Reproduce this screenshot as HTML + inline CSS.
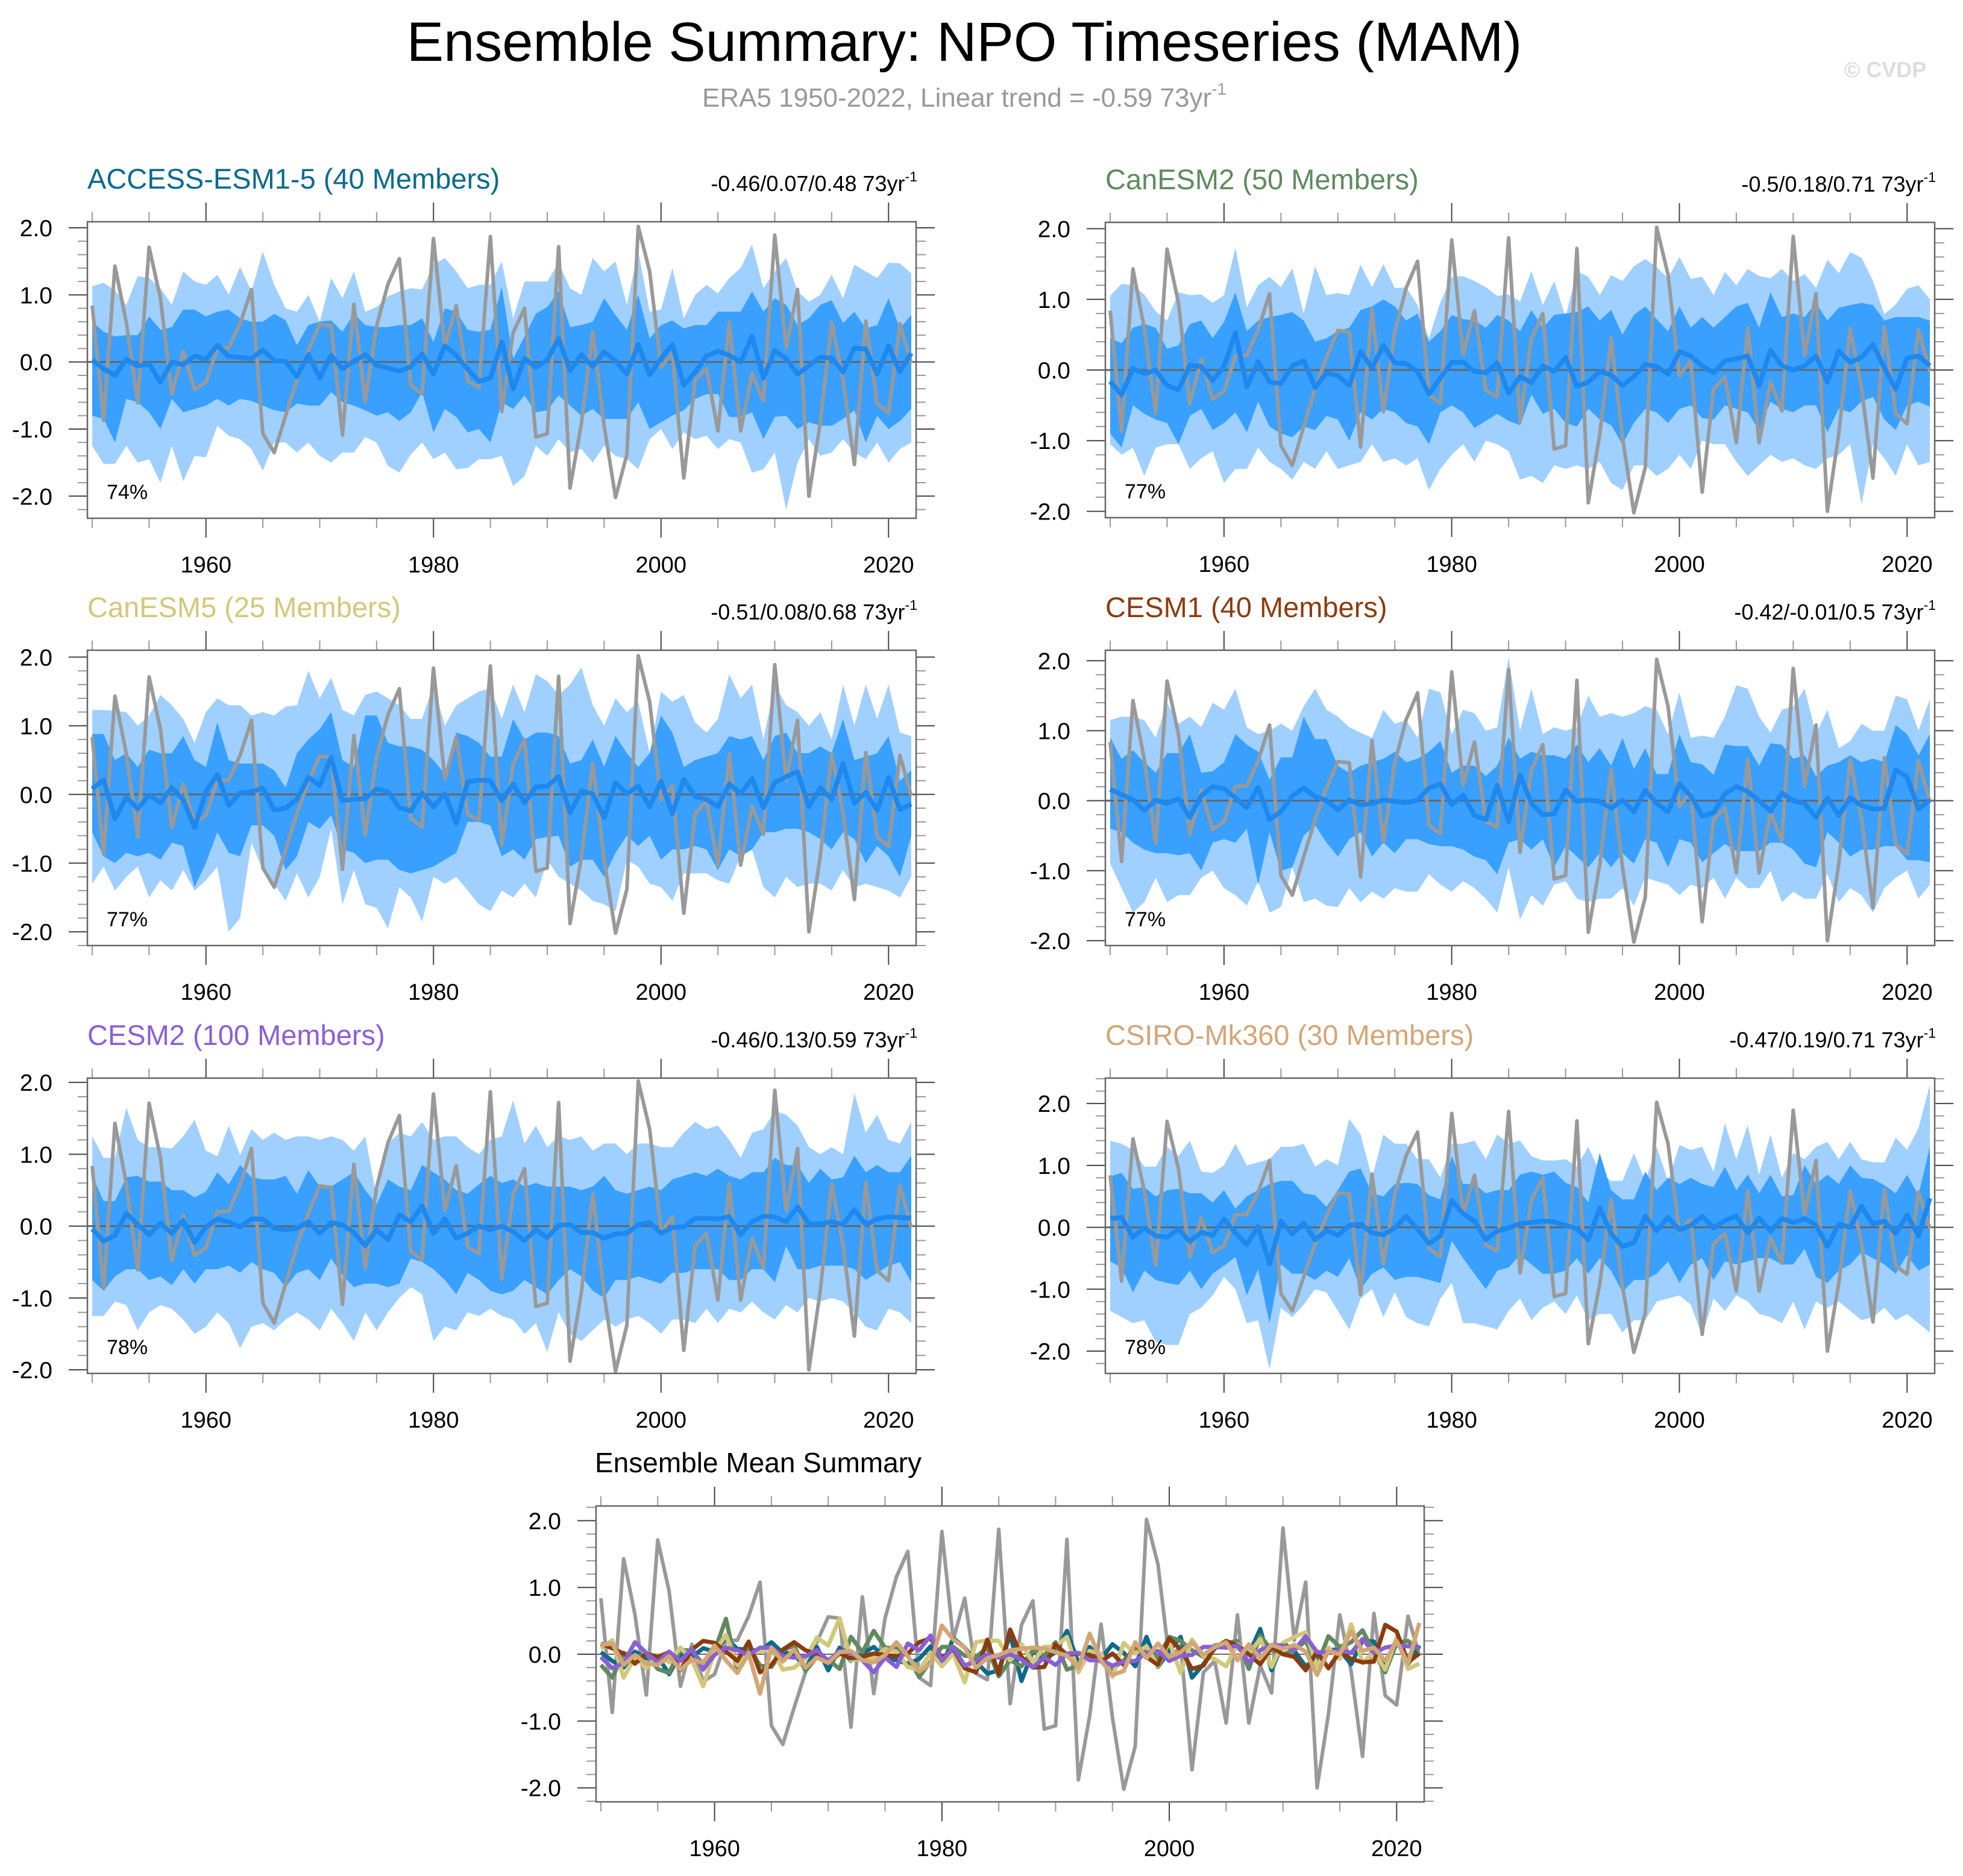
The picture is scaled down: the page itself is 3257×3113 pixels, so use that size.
<!DOCTYPE html>
<html><head><meta charset="utf-8"><title>Ensemble Summary: NPO Timeseries (MAM)</title>
<style>html,body{margin:0;padding:0;background:#fff}svg{display:block;font-family:"Liberation Sans",Arial,sans-serif}</style>
</head><body>
<svg id="chart" width="3257" height="3113" viewBox="0 0 3257 3113" xmlns="http://www.w3.org/2000/svg">
<rect x="0" y="0" width="3257" height="3113" fill="#fff"/>
<text x="1600" y="101" font-size="92" text-anchor="middle" fill="#000">Ensemble Summary: NPO Timeseries (MAM)</text>
<text x="1600" y="177" font-size="44" text-anchor="middle" fill="#999">ERA5 1950-2022, Linear trend = -0.59 73yr<tspan font-size="28" dy="-20">-1</tspan></text>
<text x="3128" y="128" font-size="36" font-weight="bold" text-anchor="middle" fill="#ddd">© CVDP</text>
<g id="plots"></g>
</svg>
<script>
const years=[];for(let y=1950;y<=2022;y++)years.push(y);
const era5=[0.84,-0.87,1.43,0.59,-0.61,1.71,0.95,-0.48,0.15,-0.41,-0.3,0.2,0.21,0.57,1.08,-1.07,-1.35,-0.8,-0.27,0.18,0.56,0.54,-1.09,0.86,-0.59,0.54,1.16,1.54,-0.35,-0.47,1.84,0.22,0.84,-0.29,-0.38,1.87,-0.74,0.44,0.8,-1.12,-1.07,1.72,-1.88,-0.92,0.45,-0.95,-2.02,-1.38,2.02,1.35,-0.08,0.13,-1.73,-0.27,-0.1,-1.03,0.59,-1.03,-0.17,-0.58,1.89,0.21,1.08,-2.0,-0.9,0.59,-0.26,-1.53,0.61,-0.62,-0.76,0.57,-0.02];

const accessMean=[0.03,-0.1,-0.2,0.04,-0.06,-0.03,-0.3,0.0,-0.04,0.09,0.04,0.25,0.08,0.07,0.05,0.18,0.02,0.01,-0.22,0.11,-0.24,0.1,-0.1,0.01,0.11,-0.05,-0.09,-0.14,-0.07,0.12,-0.18,0.24,0.1,-0.11,-0.29,-0.24,0.3,-0.4,0.05,-0.08,0.03,0.35,-0.13,0.11,-0.07,0.15,0.02,-0.18,0.26,-0.19,0.05,0.26,-0.35,-0.15,0.09,0.16,0.1,0.0,0.38,-0.24,0.17,0.05,-0.18,-0.06,0.07,0.06,-0.15,0.21,0.19,-0.18,0.24,-0.15,0.13];
const accessLightHi=[1.13,1.18,1.07,0.85,1.28,1.25,1.1,0.85,1.35,1.2,1.15,1.3,1.0,1.42,1.05,1.65,1.15,0.8,0.75,1.0,0.6,1.25,0.95,1.35,0.75,0.82,0.98,1.05,1.1,1.08,1.45,1.55,1.35,1.1,1.15,1.15,1.5,0.65,1.2,1.2,1.2,1.48,1.1,1.0,1.55,1.35,1.5,0.85,1.65,0.75,0.78,1.4,0.65,1.0,1.15,1.02,1.25,1.4,1.75,1.1,1.35,1.55,1.05,0.9,1.0,1.3,0.95,1.45,1.35,1.25,1.48,1.47,1.32];
const accessDarkHi=[0.6,0.45,0.38,0.4,0.4,0.68,0.48,0.52,0.78,0.78,0.68,0.75,0.78,0.65,0.6,0.6,0.72,0.62,0.25,0.55,0.6,0.62,0.45,0.72,0.55,0.52,0.52,0.55,0.55,0.65,0.3,0.8,0.75,0.48,0.45,0.48,1.12,0.05,0.38,0.72,0.82,1.05,0.52,0.55,0.6,0.95,0.7,0.48,1.0,0.35,0.55,0.62,0.5,0.55,0.55,0.75,0.75,0.75,1.05,0.75,0.95,0.85,0.55,0.65,0.85,0.92,0.58,0.75,0.5,0.55,0.95,0.5,0.7];
const accessDarkLo=[-0.8,-0.85,-1.2,-0.55,-0.6,-0.75,-1.0,-0.55,-0.75,-0.7,-0.65,-0.55,-0.65,-0.55,-0.58,-0.65,-0.72,-0.75,-0.62,-0.65,-0.65,-0.45,-0.6,-0.65,-0.72,-0.8,-0.75,-0.88,-0.75,-0.45,-1.05,-0.7,-0.82,-1.05,-1.0,-1.2,-0.6,-0.7,-0.5,-0.75,-0.72,-0.5,-0.65,-0.8,-0.7,-0.85,-0.85,-0.85,-0.6,-1.0,-0.9,-0.8,-0.72,-0.55,-0.48,-0.48,-0.82,-0.82,-0.75,-1.15,-0.82,-0.8,-1.0,-0.9,-0.95,-0.95,-0.85,-0.72,-1.2,-0.8,-1.0,-0.88,-0.7];
const accessLightLo=[-1.25,-1.52,-1.52,-1.25,-1.5,-1.45,-1.8,-1.25,-1.78,-1.4,-1.42,-0.95,-1.1,-1.15,-1.3,-1.62,-1.2,-1.2,-1.35,-1.2,-1.4,-1.5,-1.35,-1.35,-1.12,-1.2,-1.55,-1.65,-1.38,-1.2,-1.45,-1.35,-1.6,-1.58,-1.45,-1.45,-1.4,-1.85,-1.7,-1.25,-1.4,-1.15,-1.35,-1.3,-1.5,-1.25,-1.4,-1.45,-1.6,-1.15,-1.0,-1.3,-1.05,-1.15,-1.1,-1.3,-1.15,-1.2,-1.65,-1.6,-1.35,-2.2,-1.5,-1.15,-1.4,-1.35,-1.15,-1.35,-1.45,-1.2,-1.5,-1.3,-1.2];

const canesm2Mean=[-0.16,-0.35,0.02,-0.05,0.0,-0.22,-0.28,0.07,0.05,-0.15,0.05,0.53,-0.24,0.12,-0.17,-0.19,0.06,0.13,-0.25,-0.04,-0.08,-0.22,0.26,0.03,0.35,0.1,0.09,-0.02,-0.34,-0.11,0.11,0.11,-0.02,-0.04,0.1,-0.33,-0.09,-0.18,0.06,-0.02,0.18,-0.23,-0.17,-0.02,-0.07,-0.22,-0.09,0.08,0.05,-0.06,0.26,0.2,0.06,-0.04,0.13,0.16,0.2,-0.22,0.28,0.06,0.0,0.06,0.2,-0.17,0.27,0.11,0.18,0.36,0.03,-0.27,0.17,0.2,0.06];
const canesm2LightHi=[1.05,1.22,1.2,1.07,0.83,0.7,1.1,1.06,1.07,0.95,1.06,1.73,0.89,1.2,1.32,1.17,1.44,0.8,1.47,1.06,1.09,1.06,1.49,1.17,1.5,1.16,1.17,0.92,0.45,0.96,1.32,1.33,1.26,1.17,1.05,1.07,0.97,1.4,0.92,1.26,0.75,1.4,1.32,1.06,1.34,1.26,1.47,1.57,1.46,1.3,1.6,1.29,1.32,1.06,1.39,1.2,1.43,1.33,1.3,1.43,1.26,1.36,1.16,1.56,1.37,1.67,1.59,1.26,0.79,0.93,1.15,1.2,1.0];
const canesm2DarkHi=[0.45,0.38,0.6,0.65,0.6,0.3,0.35,0.65,0.7,0.45,0.68,1.1,0.55,0.7,0.75,0.78,0.82,0.7,0.4,0.45,0.55,0.6,0.85,0.9,1.0,0.9,0.7,0.8,0.4,0.55,0.78,0.72,0.7,0.6,0.78,0.7,0.55,0.85,0.6,0.78,0.8,0.82,0.9,0.7,0.85,0.5,0.78,0.9,0.72,0.55,0.9,0.6,0.75,0.6,0.75,0.9,0.95,0.6,1.1,0.75,0.8,0.75,0.95,0.7,0.88,0.92,0.95,0.92,0.7,0.75,0.75,0.75,0.7];
const canesm2DarkLo=[-0.9,-1.1,-0.5,-0.62,-0.7,-0.75,-1.05,-0.65,-0.55,-0.85,-0.75,-0.6,-0.88,-0.45,-0.8,-0.9,-0.95,-0.8,-0.85,-0.65,-0.7,-1.0,-0.6,-0.7,-0.55,-0.6,-0.75,-0.8,-1.05,-0.6,-0.5,-0.6,-0.82,-0.72,-0.62,-0.72,-0.78,-0.35,-0.62,-0.55,-0.75,-0.8,-0.55,-0.7,-0.78,-1.05,-0.75,-0.55,-0.6,-0.75,-0.55,-0.5,-0.68,-0.7,-0.5,-0.55,-0.6,-0.85,-0.45,-0.55,-0.6,-0.5,-0.5,-0.88,-0.55,-0.6,-0.45,-0.38,-0.7,-0.85,-0.5,-0.45,-0.52];
const canesm2LightLo=[-1.05,-1.2,-1.1,-1.5,-1.1,-1.05,-1.05,-1.4,-1.25,-1.15,-1.6,-1.4,-1.4,-1.1,-1.3,-1.4,-1.55,-1.3,-1.4,-1.15,-1.4,-1.35,-1.3,-1.05,-1.3,-1.25,-1.35,-1.25,-1.7,-1.4,-1.2,-1.05,-1.3,-1.0,-1.05,-1.15,-1.55,-1.5,-1.6,-1.35,-1.4,-1.35,-1.4,-1.3,-1.6,-1.7,-1.35,-1.35,-1.5,-1.4,-1.2,-1.4,-1.0,-1.05,-1.05,-1.3,-1.5,-1.35,-1.2,-1.3,-1.25,-1.35,-1.4,-1.25,-1.2,-1.05,-1.9,-1.05,-1.25,-1.5,-1.05,-1.35,-1.3];

const canesm5Mean=[0.08,0.21,-0.35,-0.04,-0.21,-0.01,-0.12,0.1,-0.08,-0.48,0.04,0.29,-0.16,0.02,0.04,0.09,-0.23,-0.2,-0.07,0.25,0.13,0.54,-0.09,-0.07,-0.06,0.08,0.04,-0.19,-0.24,0.02,-0.18,0.01,-0.42,0.18,0.21,0.2,-0.09,0.15,-0.12,0.11,0.12,0.26,-0.27,0.05,0.01,-0.34,0.17,0.01,0.12,-0.18,0.19,-0.28,0.22,-0.03,-0.07,-0.18,0.15,0.01,0.23,-0.19,0.17,0.26,0.33,-0.18,0.1,-0.07,0.45,-0.13,0.03,-0.23,0.25,-0.22,-0.14];
const canesm5LightHi=[1.23,1.23,1.22,1.2,1.0,1.15,1.45,1.3,1.1,0.75,1.2,1.4,1.3,1.3,1.15,1.2,1.15,1.28,1.3,1.8,1.4,1.7,1.23,1.15,1.45,1.5,1.4,1.3,1.1,1.1,1.6,1.0,1.3,1.4,1.5,1.55,1.1,1.6,1.2,1.75,1.65,1.45,1.6,1.85,1.3,1.0,1.4,1.2,1.35,0.6,1.5,1.35,1.45,1.05,0.9,1.1,1.75,1.4,1.6,0.8,1.6,1.3,1.2,1.0,1.2,0.8,1.6,1.0,1.6,1.1,1.6,0.9,0.85];
const canesm5DarkHi=[0.88,0.88,0.5,0.6,0.4,0.65,0.6,0.6,0.85,0.5,0.4,1.05,0.5,0.45,0.45,0.45,0.35,0.1,0.6,0.8,0.95,1.2,0.5,0.4,1.15,1.15,0.75,0.7,0.7,0.65,0.5,0.3,0.9,0.85,0.75,0.55,0.55,1.1,0.8,0.9,0.9,0.85,0.45,0.5,0.8,0.4,0.85,0.6,0.4,0.6,1.15,0.9,0.4,0.5,0.55,0.6,0.85,0.8,0.85,0.5,0.85,0.9,0.6,0.6,0.7,0.6,1.1,0.5,0.55,0.6,0.85,0.2,0.35];
const canesm5DarkLo=[-0.55,-0.9,-1.0,-0.85,-0.9,-0.85,-0.95,-0.7,-0.75,-1.35,-1.0,-0.55,-0.85,-0.9,-0.45,-0.45,-0.6,-1.1,-0.9,-0.4,-0.5,-0.3,-0.8,-0.85,-1.0,-0.95,-0.95,-1.1,-1.15,-1.1,-1.05,-0.95,-0.85,-0.4,-0.4,-0.45,-0.9,-0.8,-0.95,-0.65,-0.62,-0.6,-1.05,-0.95,-0.95,-1.2,-0.85,-0.6,-0.75,-0.6,-0.95,-0.8,-0.8,-0.75,-0.8,-1.1,-0.8,-0.9,-0.8,-0.55,-0.55,-0.5,-0.5,-0.55,-0.65,-0.8,-0.55,-0.65,-1.0,-0.75,-0.9,-1.2,-0.6];
const canesm5LightLo=[-1.3,-1.05,-1.4,-1.2,-1.05,-1.5,-1.25,-1.4,-1.1,-1.4,-1.25,-1.05,-2.0,-1.8,-0.7,-1.1,-1.3,-1.55,-1.15,-1.5,-1.2,-0.5,-1.6,-1.1,-1.6,-1.65,-1.95,-1.35,-1.5,-1.85,-1.2,-1.3,-1.2,-1.4,-1.6,-1.7,-1.4,-1.5,-1.3,-1.5,-0.95,-1.2,-1.3,-1.4,-1.55,-1.6,-1.7,-0.95,-1.05,-1.3,-1.35,-1.55,-1.15,-1.15,-1.15,-1.25,-1.3,-0.9,-0.8,-1.35,-1.5,-1.2,-1.35,-1.3,-1.3,-1.4,-1.1,-1.35,-1.3,-1.35,-1.4,-1.5,-1.2];

const cesm1Mean=[0.16,0.09,0.01,-0.14,0.01,-0.04,0.03,-0.24,0.07,0.2,0.17,0.04,-0.1,0.19,-0.27,-0.16,0.07,0.18,0.06,0.0,-0.13,0.01,-0.06,-0.04,0.01,-0.01,-0.03,0.01,0.18,0.24,-0.06,0.08,-0.21,-0.27,0.22,-0.3,0.37,-0.04,-0.2,-0.19,0.15,-0.01,0.01,-0.01,-0.11,0.01,-0.16,0.15,-0.04,-0.16,0.24,0.07,-0.22,-0.17,0.1,0.2,0.13,0.0,-0.15,0.11,0.0,-0.04,-0.24,0.04,-0.21,0.04,-0.07,-0.12,-0.11,0.44,0.34,-0.12,0.01];
const cesm1LightHi=[1.15,1.2,1.2,1.15,0.9,1.4,1.1,1.2,1.05,1.4,1.3,1.6,1.05,0.95,1.0,1.1,1.0,1.35,1.6,1.3,1.2,1.05,0.97,0.9,1.3,1.1,1.15,0.9,1.6,1.55,0.95,1.3,1.25,1.0,1.05,2.05,1.0,1.6,0.95,1.05,1.0,1.05,1.5,1.2,1.25,1.2,1.25,1.35,1.3,0.95,1.55,0.9,0.93,0.9,1.2,1.65,1.6,1.2,0.97,1.3,1.35,1.6,0.95,1.3,0.75,0.85,1.1,1.0,1.0,1.5,1.45,1.0,1.45];
const cesm1DarkHi=[0.9,0.6,0.72,0.55,0.4,0.68,0.68,0.95,0.4,0.42,0.55,0.95,0.8,0.7,0.3,0.62,0.62,1.2,0.88,0.88,0.5,0.4,0.5,0.55,0.6,0.7,0.55,0.6,0.7,0.85,0.4,0.5,0.5,0.35,0.5,0.9,0.6,0.7,0.65,0.65,0.6,0.8,0.55,0.75,0.5,0.9,0.45,0.75,0.38,0.38,0.95,0.55,0.52,0.37,0.8,0.78,0.78,0.5,0.82,0.8,0.6,0.65,0.35,0.5,0.55,0.65,0.55,0.6,0.55,1.08,0.95,0.65,0.95];
const cesm1DarkLo=[-0.4,-0.45,-0.6,-0.7,-0.75,-0.75,-0.78,-0.75,-1.0,-0.6,-0.55,-0.6,-0.4,-1.2,-0.45,-1.0,-0.95,-0.5,-0.35,-0.6,-0.8,-0.55,-0.45,-0.8,-0.6,-0.75,-0.55,-0.55,-0.62,-0.65,-0.65,-0.7,-0.8,-0.85,-1.05,-0.6,-0.55,-0.7,-0.55,-0.95,-0.65,-0.8,-0.95,-0.75,-0.95,-0.75,-0.9,-0.55,-0.6,-0.95,-0.55,-0.6,-0.88,-0.75,-0.62,-0.72,-0.72,-0.72,-0.6,-0.6,-0.7,-0.9,-0.95,-0.45,-0.6,-0.8,-0.7,-0.7,-0.65,-0.65,-0.85,-0.85,-0.88];
const cesm1LightLo=[-0.9,-1.25,-1.6,-1.45,-1.1,-1.45,-1.35,-1.35,-1.1,-1.0,-1.25,-1.35,-1.5,-1.15,-1.6,-1.52,-0.95,-1.45,-1.4,-1.5,-1.52,-1.25,-1.45,-1.3,-1.4,-1.25,-1.3,-1.3,-1.05,-1.2,-1.3,-1.15,-1.25,-1.4,-1.6,-0.95,-1.7,-1.35,-1.5,-1.2,-1.15,-1.4,-1.45,-1.4,-1.4,-1.25,-1.5,-1.1,-1.15,-1.2,-1.35,-1.2,-1.25,-1.1,-1.4,-1.1,-1.25,-1.25,-1.0,-1.45,-1.3,-1.4,-1.4,-1.05,-1.45,-1.25,-1.35,-1.6,-1.25,-1.1,-1.0,-1.4,-1.2];

const cesm2Mean=[-0.04,-0.21,-0.13,0.18,0.02,-0.12,0.04,-0.1,0.08,-0.23,-0.01,0.1,0.06,-0.01,0.1,0.1,-0.03,-0.05,-0.03,0.06,-0.1,0.05,0.02,-0.09,-0.27,-0.05,-0.19,0.16,0.06,0.28,-0.1,0.1,-0.17,-0.1,0.0,-0.05,0.0,-0.08,-0.2,-0.05,-0.16,0.01,0.02,-0.09,-0.09,-0.17,-0.11,-0.1,0.02,0.05,-0.1,-0.02,-0.01,0.11,0.11,0.1,0.13,-0.12,0.06,0.14,0.13,0.06,0.27,0.03,0.03,0.06,0.02,0.23,0.02,0.1,0.13,0.12,0.11];
const cesm2LightHi=[1.25,0.95,0.95,1.65,1.2,1.1,1.1,1.08,1.25,1.48,1.05,0.97,1.4,0.99,1.35,1.2,1.3,1.2,1.25,1.25,1.2,1.25,1.2,1.05,1.25,0.4,1.15,1.3,1.25,1.45,1.2,1.25,1.25,1.1,1.0,1.2,1.25,1.75,1.15,1.4,1.1,1.25,1.2,1.25,1.05,1.15,1.15,1.0,1.15,1.15,1.1,1.1,1.3,1.45,1.35,1.4,1.2,0.95,1.3,1.35,1.6,1.55,1.4,1.1,1.0,1.1,1.0,1.85,1.3,1.55,1.2,1.15,1.45];
const cesm2DarkHi=[0.7,0.35,0.35,0.68,0.7,0.62,0.62,0.5,0.5,0.4,0.48,0.75,0.58,0.85,0.68,0.65,0.65,0.7,0.45,0.78,0.55,0.55,0.65,0.75,0.5,0.3,0.65,0.55,0.5,0.85,0.75,0.65,0.5,0.45,0.58,0.7,0.6,0.65,0.55,0.6,0.55,0.55,0.55,0.5,0.55,0.7,0.5,0.45,0.5,0.55,0.5,0.65,0.7,0.75,0.7,0.8,0.7,0.65,0.75,0.75,0.95,0.85,0.85,0.6,0.8,0.65,0.68,0.98,0.75,0.85,0.75,0.75,0.98];
const cesm2DarkLo=[-0.75,-0.9,-0.7,-0.6,-0.6,-0.75,-0.7,-0.82,-0.6,-0.8,-0.6,-0.6,-0.55,-0.65,-0.5,-0.6,-0.65,-0.85,-0.65,-0.6,-0.75,-0.45,-0.68,-0.85,-0.8,-0.8,-0.85,-0.8,-0.45,-0.5,-0.6,-0.75,-0.95,-0.65,-0.75,-0.9,-0.95,-0.9,-0.75,-0.85,-0.95,-0.75,-0.6,-0.7,-0.9,-1.0,-0.75,-0.75,-0.7,-0.75,-0.8,-0.65,-0.65,-0.6,-0.6,-0.6,-0.75,-0.75,-0.6,-0.6,-0.78,-0.28,-0.6,-0.6,-0.55,-0.55,-0.55,-0.6,-0.75,-0.65,-0.55,-0.5,-0.78];
const cesm2LightLo=[-1.25,-1.25,-1.05,-1.1,-1.45,-1.2,-1.1,-1.15,-1.3,-1.5,-1.4,-1.2,-1.35,-1.7,-1.4,-1.35,-1.45,-1.3,-1.2,-1.3,-1.45,-1.15,-1.35,-1.6,-1.2,-1.45,-1.2,-1.0,-0.85,-0.95,-1.6,-1.4,-1.45,-1.2,-1.25,-1.15,-1.25,-1.3,-1.5,-1.35,-1.75,-1.2,-1.5,-1.6,-1.45,-1.3,-1.4,-1.3,-1.25,-1.35,-1.5,-1.3,-1.3,-1.35,-1.15,-1.35,-1.15,-1.2,-1.05,-1.2,-1.3,-1.1,-1.2,-1.0,-1.05,-1.0,-1.05,-1.2,-1.4,-1.45,-1.15,-1.2,-1.35];

const csiroMean=[0.14,0.16,-0.16,-0.01,-0.14,-0.16,-0.03,-0.23,-0.08,-0.13,0.13,-0.09,-0.28,0.01,-0.59,0.1,-0.11,0.07,-0.2,-0.05,-0.13,0.03,0.05,-0.09,-0.12,-0.01,0.18,-0.03,-0.26,-0.14,0.43,0.22,0.1,-0.2,-0.06,-0.01,0.06,0.08,0.1,0.09,0.03,-0.02,-0.2,0.31,-0.1,-0.31,-0.25,0.18,-0.06,0.16,-0.04,0.03,0.18,-0.01,0.11,0.18,-0.09,0.15,-0.06,0.14,0.08,0.14,0.04,-0.31,0.05,0.0,0.34,0.05,0.1,-0.1,0.2,-0.14,0.47];
const csiroLightHi=[1.4,1.35,1.25,0.98,0.98,1.3,1.15,1.4,0.9,0.88,1.0,1.35,1.0,1.05,1.1,1.3,1.3,1.35,0.98,1.1,1.0,1.75,1.5,0.8,1.5,1.35,1.35,1.1,1.1,0.8,1.35,1.35,1.4,1.1,1.5,1.35,1.4,1.15,1.08,1.08,1.1,0.98,1.3,0.9,0.75,0.75,1.2,0.75,1.3,0.75,1.33,1.25,1.3,0.9,1.68,1.1,1.65,0.85,1.5,0.8,1.2,1.1,1.3,1.38,1.1,1.38,1.1,1.05,1.05,1.45,1.25,1.6,2.3];
const csiroDarkHi=[0.82,0.88,0.62,0.65,0.5,0.6,0.62,0.55,0.55,0.4,0.6,0.3,0.5,0.6,0.7,0.75,0.75,0.55,0.52,0.33,0.6,0.9,0.95,0.55,0.5,0.7,0.72,0.7,0.52,0.45,1.15,0.7,0.7,0.55,0.6,0.6,0.85,0.9,0.85,0.9,0.72,0.65,0.4,1.2,0.6,0.45,0.45,0.9,0.6,0.8,0.7,0.8,0.7,0.65,0.98,0.6,0.85,0.55,0.85,0.5,0.52,1.0,0.7,0.85,0.7,1.0,0.8,0.78,0.68,0.55,0.85,0.52,1.3];
const csiroDarkLo=[-0.55,-0.65,-1.05,-0.7,-0.85,-0.9,-0.93,-0.7,-1.0,-0.75,-0.62,-0.48,-1.1,-0.68,-1.55,-0.6,-0.75,-0.75,-0.85,-0.7,-0.8,-0.5,-1.0,-0.75,-0.65,-0.85,-0.8,-0.8,-0.85,-0.9,-0.22,-0.5,-0.75,-1.0,-0.7,-0.65,-0.45,-0.6,-0.75,-0.75,-0.7,-0.5,-0.75,-0.5,-0.7,-1.05,-0.85,-0.85,-0.75,-0.55,-0.9,-0.6,-0.5,-0.85,-0.55,-0.6,-0.55,-0.5,-0.5,-0.6,-0.6,-0.35,-0.8,-0.9,-0.7,-0.6,-0.4,-0.5,-0.6,-0.75,-0.45,-0.7,-0.6];
const csiroLightLo=[-1.35,-1.45,-1.55,-1.5,-1.85,-1.9,-1.9,-1.4,-1.3,-1.1,-0.8,-1.0,-1.55,-1.5,-2.3,-1.3,-1.45,-1.25,-1.0,-1.05,-1.35,-1.65,-1.15,-1.0,-1.45,-1.05,-1.45,-1.55,-1.6,-1.15,-0.9,-1.55,-1.55,-1.6,-1.65,-1.35,-1.15,-1.5,-1.3,-1.2,-1.4,-1.1,-1.5,-1.4,-1.4,-1.7,-1.5,-1.5,-1.2,-1.15,-1.1,-1.25,-1.75,-1.15,-1.35,-1.1,-1.2,-1.4,-1.45,-1.55,-1.2,-1.65,-1.2,-1.3,-1.2,-1.35,-1.5,-1.45,-1.3,-1.5,-1.4,-1.55,-1.7];

const yTickLabels=["-2.0","-1.0","0.0","1.0","2.0"];
const xTickLabels=["1960","1980","2000","2020"];
const panelTitles=["ACCESS-ESM1-5 (40 Members)","CanESM2 (50 Members)","CanESM5 (25 Members)","CESM1 (40 Members)","CESM2 (100 Members)","CSIRO-Mk360 (30 Members)"];
const trendLabels=["-0.46/0.07/0.48 73yr","-0.5/0.18/0.71 73yr","-0.51/0.08/0.68 73yr","-0.42/-0.01/0.5 73yr","-0.46/0.13/0.59 73yr","-0.47/0.19/0.71 73yr"];
const pctLabels=["74%","77%","77%","77%","78%","78%"];

const NS="http://www.w3.org/2000/svg";
const root=document.getElementById('plots');
function mk(tag,attrs,parent){const e=document.createElementNS(NS,tag);for(const k in attrs)e.setAttribute(k,attrs[k]);(parent||root).appendChild(e);return e;}

const modelColors=["#0b6a8c","#5f8a5f","#d2c87a","#8b3c0f","#8a5fd6","#d2a676"];
const panels=[
 {x0:145,x1:1520,y0:368,y1:860,vTop:2.09,vBot:-2.33,mean:accessMean,lh:accessLightHi,dh:accessDarkHi,dl:accessDarkLo,ll:accessLightLo,name:'access-esm1-5'},
 {x0:1834,x1:3210,y0:369,y1:859,vTop:2.09,vBot:-2.09,mean:canesm2Mean,lh:canesm2LightHi,dh:canesm2DarkHi,dl:canesm2DarkLo,ll:canesm2LightLo,name:'canesm2'},
 {x0:145,x1:1520,y0:1079,y1:1569,vTop:2.1,vBot:-2.2,mean:canesm5Mean,lh:canesm5LightHi,dh:canesm5DarkHi,dl:canesm5DarkLo,ll:canesm5LightLo,name:'canesm5'},
 {x0:1834,x1:3210,y0:1079,y1:1569,vTop:2.15,vBot:-2.07,mean:cesm1Mean,lh:cesm1LightHi,dh:cesm1DarkHi,dl:cesm1DarkLo,ll:cesm1LightLo,name:'cesm1'},
 {x0:145,x1:1520,y0:1789,y1:2279,vTop:2.06,vBot:-2.05,mean:cesm2Mean,lh:cesm2LightHi,dh:cesm2DarkHi,dl:cesm2DarkLo,ll:cesm2LightLo,name:'cesm2'},
 {x0:1834,x1:3210,y0:1789,y1:2279,vTop:2.41,vBot:-2.36,mean:csiroMean,lh:csiroLightHi,dh:csiroDarkHi,dl:csiroDarkLo,ll:csiroLightLo,name:'csiro-mk360'}
];

function axesFns(p){
  const pad=(p.x1-p.x0)*0.0058;
  const xs=y=>p.x0+pad+(y-1950)/72*(p.x1-p.x0-2*pad);
  const ys=v=>p.y0+(p.vTop-v)/(p.vTop-p.vBot)*(p.y1-p.y0);
  return {xs,ys};
}
function lineD(arr,xs,ys){let d='';for(let i=0;i<arr.length&&i<years.length;i++){d+=(i?'L':'M')+xs(years[i]).toFixed(1)+','+ys(arr[i]).toFixed(1);}return d;}
function bandD(hi,lo,xs,ys){const n=Math.min(hi.length,lo.length,years.length);let d='';for(let i=0;i<n;i++)d+=(i?'L':'M')+xs(years[i]).toFixed(1)+','+ys(hi[i]).toFixed(1);for(let i=n-1;i>=0;i--)d+='L'+xs(years[i]).toFixed(1)+','+ys(lo[i]).toFixed(1);return d+'Z';}

function drawFrame(p,g,xs,ys){
  for(let y=1950;y<=2022;y+=5){
    const X=xs(y);const major=(y%20===0);const L=major?32:16;
    const t1=mk('line',{x1:X,y1:p.y1,x2:X,y2:p.y1+L,stroke:major?'#444':'#999','stroke-width':2},g);
    
    
    const t2=mk('line',{x1:X,y1:p.y0,x2:X,y2:p.y0-L,stroke:major?'#444':'#999','stroke-width':2},g);
    
    
  }
  for(let k=Math.ceil(p.vBot*5);k<=Math.floor(p.vTop*5);k++){
    const v=k/5;const Y=ys(v);const major=(k%5===0);const L=major?31:16;
    const a=mk('line',{x1:p.x0-L,y1:Y,x2:p.x0,y2:Y,stroke:major?'#444':'#999','stroke-width':2},g);
    
    
    const b=mk('line',{x1:p.x1,y1:Y,x2:p.x1+L,y2:Y,stroke:major?'#444':'#999','stroke-width':2},g);
    
    
  }
  yTickLabels.forEach((lab)=>{
    const v=parseFloat(lab);
    const t=mk('text',{x:p.x0-58,y:ys(v)+14,'font-size':39,'text-anchor':'end',fill:'#000'},g);
    
    
    t.textContent=lab;
  });
  xTickLabels.forEach((lab)=>{
    const t=mk('text',{x:xs(parseInt(lab)),y:p.y1+90,'font-size':38,'text-anchor':'middle',fill:'#000'},g);
    
    
    t.textContent=lab;
  });
  const fr=mk('rect',{x:p.x0,y:p.y0,width:p.x1-p.x0,height:p.y1-p.y0,fill:'none',stroke:'#666','stroke-width':2.5},g);
  
  
}

panels.forEach((p,i)=>{
  const g=mk('g',{});
  
  
  const {xs,ys}=axesFns(p);
  const cp=mk('clipPath',{id:'cp'+i},g);mk('rect',{x:p.x0,y:p.y0,width:p.x1-p.x0,height:p.y1-p.y0},cp);
  const inner=mk('g',{'clip-path':'url(#cp'+i+')'},g);
  const lb=mk('path',{d:bandD(p.lh,p.ll,xs,ys),fill:'#a0d0ff'},inner);
  
  
  const db=mk('path',{d:bandD(p.dh,p.dl,xs,ys),fill:'#39a0ff'},inner);
  
  
  const z=mk('line',{x1:p.x0,y1:ys(0),x2:p.x1,y2:ys(0),stroke:'#666','stroke-width':3},inner);
  
  
  const ob=mk('path',{d:lineD(era5,xs,ys),fill:'none',stroke:'#999','stroke-width':6,'stroke-linejoin':'round'},inner);
  
  
  const ml=mk('path',{d:lineD(p.mean,xs,ys),fill:'none',stroke:'#1e88ee','stroke-width':8,'stroke-linejoin':'round'},inner);
  
  
  drawFrame(p,g,xs,ys);
  const tt=mk('text',{x:p.x0,y:p.y0-55,'font-size':47,fill:modelColors[i]},g);
  
  
  tt.textContent=panelTitles[i];
  const tr=mk('text',{x:p.x1+2,y:p.y0-51,'font-size':36,'text-anchor':'end',fill:'#000'},g);
  
  
  tr.appendChild(document.createTextNode(trendLabels[i]));
  const sp=mk('tspan',{'font-size':23,dy:-16},tr);sp.textContent='-1';
  const pc=mk('text',{x:p.x0+32,y:p.y1-32,'font-size':34,fill:'#000'},g);
  
  
  pc.textContent=pctLabels[i];
});

(function(){
  const p={x0:989,x1:2363,y0:2499,y1:2990,vTop:2.22,vBot:-2.21};
  const g=mk('g',{});
  
  
  const {xs,ys}=axesFns(p);
  const cp=mk('clipPath',{id:'cpb'},g);mk('rect',{x:p.x0,y:p.y0,width:p.x1-p.x0,height:p.y1-p.y0},cp);
  const inner=mk('g',{'clip-path':'url(#cpb)'},g);
  const z=mk('line',{x1:p.x0,y1:ys(0),x2:p.x1,y2:ys(0),stroke:'#666','stroke-width':2},inner);
  
  
  const ob=mk('path',{d:lineD(era5,xs,ys),fill:'none',stroke:'#999','stroke-width':6,'stroke-linejoin':'round'},inner);
  
  
  const means=[accessMean,canesm2Mean,canesm5Mean,cesm1Mean,cesm2Mean,csiroMean];
  means.forEach((m,i)=>{
    const l=mk('path',{d:lineD(m,xs,ys),fill:'none',stroke:modelColors[i],'stroke-width':7,'stroke-linejoin':'round'},inner);
    
    
  });
  drawFrame(p,g,xs,ys);
  const t=mk('text',{x:987,y:2443,'font-size':46,fill:'#000'},g);
  
  
  t.textContent='Ensemble Mean Summary';
})();
</script>
</body></html>
